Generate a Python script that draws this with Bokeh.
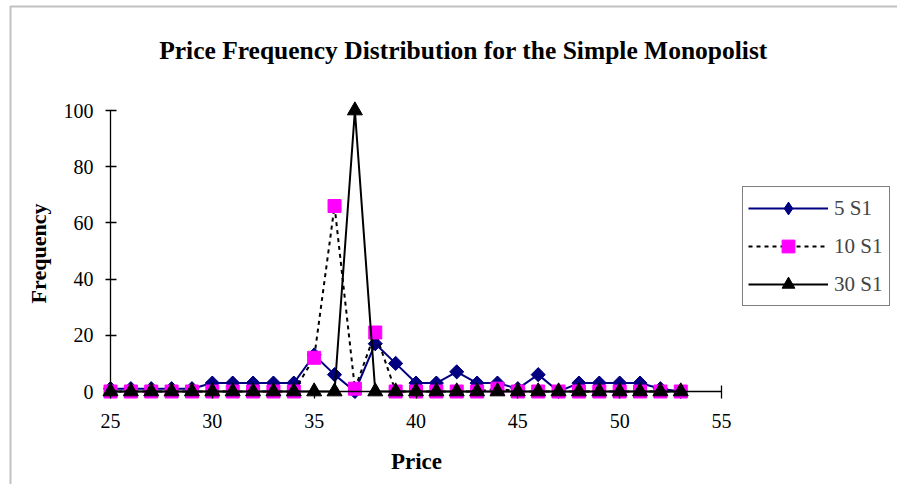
import numpy as np
from bokeh.plotting import figure
from bokeh.models import Range1d, Legend, LegendItem, Label, BoxAnnotation, FixedTicker
from bokeh.embed import file_html
from bokeh.resources import INLINE

# ---- data ----
price = list(range(25, 54))
s5 = [1, 1, 1, 1, 1, 3, 3, 3, 3, 3, 13, 6, 0, 17, 10, 3, 3, 7, 3, 3, 1, 6, 0, 3, 3, 3, 3, 1, 0]
s10 = [0, 0, 0, 0, 0, 0, 0, 0, 0, 0, 12, 66, 1, 21, 0, 0, 0, 0, 0, 1, 0, 0, 0, 0, 0, 0, 0, 0, 0]
s30 = [0, 0, 0, 0, 0, 0, 0, 0, 0, 0, 0, 0, 100, 0, 0, 0, 0, 0, 0, 0, 0, 0, 0, 0, 0, 0, 0, 0, 0]
x_ticks = [25, 30, 35, 40, 45, 50, 55]
y_ticks = [0, 20, 40, 60, 80, 100]
title_text = "Price Frequency Distribution for the Simple Monopolist"
x_label = "Price"
y_label = "Frequency"
series_names = ["5 S1", "10 S1", "30 S1"]

# ---- geometry (pixels) ----
W, H = 897, 484
x0px, x1px = 110, 721      # pixel for 25 and 55
y0px, y100px = 391, 110    # pixel for 0 and 100
sx = (x1px - x0px) / 30.0
sy = (y0px - y100px) / 100.0

def dx(px):
    return 25 + (px - x0px) / sx

def dy(py):
    return (y0px - py) / sy

FONT = "Liberation Serif"

p = figure(width=W, height=H, x_range=Range1d(dx(0), dx(W)), y_range=Range1d(dy(H), dy(0)),
           output_backend="svg", toolbar_location=None,
           min_border=0, min_border_left=0, min_border_right=0,
           min_border_top=0, min_border_bottom=0)
p.xgrid.visible = False
p.ygrid.visible = False
p.outline_line_color = None
p.background_fill_color = "white"
p.border_fill_color = "white"

for ax in (p.xaxis, p.yaxis):
    ax.axis_line_color = "black"
    ax.axis_line_width = 1.3
    ax.major_tick_line_color = "black"
    ax.major_tick_line_width = 1.3
    ax.minor_tick_line_color = None
    ax.major_label_text_font = FONT
    ax.major_label_text_font_size = "20px"
    ax.major_label_text_color = "black"

p.xaxis.fixed_location = 0
p.yaxis.fixed_location = 25
p.xaxis.bounds = (25, 55)
p.yaxis.bounds = (0, 100)
p.xaxis.ticker = FixedTicker(ticks=x_ticks)
p.yaxis.ticker = FixedTicker(ticks=y_ticks)
p.xaxis.major_tick_in = 6
p.xaxis.major_tick_out = 7
p.yaxis.major_tick_in = 6
p.yaxis.major_tick_out = 5
p.xaxis.major_label_standoff = 15
p.yaxis.major_label_standoff = 12

# series
l1 = p.line(price, s5, line_color="#000080", line_width=2)
# diamond marker (used by the legend), covered by a rotated square in the plot
m1_leg = p.scatter(price, s5, marker="diamond", size=13,
                   fill_color="#000080", line_color="#000080")
m1 = p.scatter(price, s5, marker="square", angle=np.pi / 4, size=10,
               fill_color="#000080", line_color="#000080")
l2 = p.line(price, s10, line_color="black", line_width=2, line_dash="4 4")
m2 = p.scatter(price, s10, marker="square", size=13,
               fill_color="#FF00FF", line_color="#FF00FF")
l3 = p.line(price, s30, line_color="black", line_width=2)
m3 = p.scatter(price, s30, marker="triangle", size=15,
               fill_color="black", line_color="black")

legend = Legend(items=[LegendItem(label=series_names[0], renderers=[l1, m1_leg]),
                       LegendItem(label=series_names[1], renderers=[l2, m2]),
                       LegendItem(label=series_names[2], renderers=[l3, m3])],
                location=(742, H - 306),
                label_text_font=FONT, label_text_font_size="21px",
                glyph_width=80, glyph_height=32, spacing=6, padding=5, margin=0,
                label_standoff=6, label_width=50, label_height=32,
                border_line_color="black", border_line_width=1,
                background_fill_color="white", background_fill_alpha=1)
p.add_layout(legend)

p.add_layout(Label(x=dx(463), y=dy(50), text=title_text, text_font=FONT,
                   text_font_size="25.5px", text_font_style="bold",
                   text_align="center", text_baseline="middle", text_color="black"))
p.add_layout(Label(x=dx(416), y=dy(461), text=x_label, text_font=FONT,
                   text_font_size="23px", text_font_style="bold",
                   text_align="center", text_baseline="middle", text_color="black"))
p.add_layout(Label(x=dx(38), y=dy(253), text=y_label, text_font=FONT,
                   text_font_size="22px", text_font_style="bold", angle=np.pi / 2,
                   text_align="center", text_baseline="middle", text_color="black"))

p.add_layout(BoxAnnotation(left=dx(10), right=dx(905), top=dy(6), bottom=dy(495),
                           fill_alpha=0, line_color="#333333", line_width=2))

open("out.html", "w").write(file_html(p, INLINE))
